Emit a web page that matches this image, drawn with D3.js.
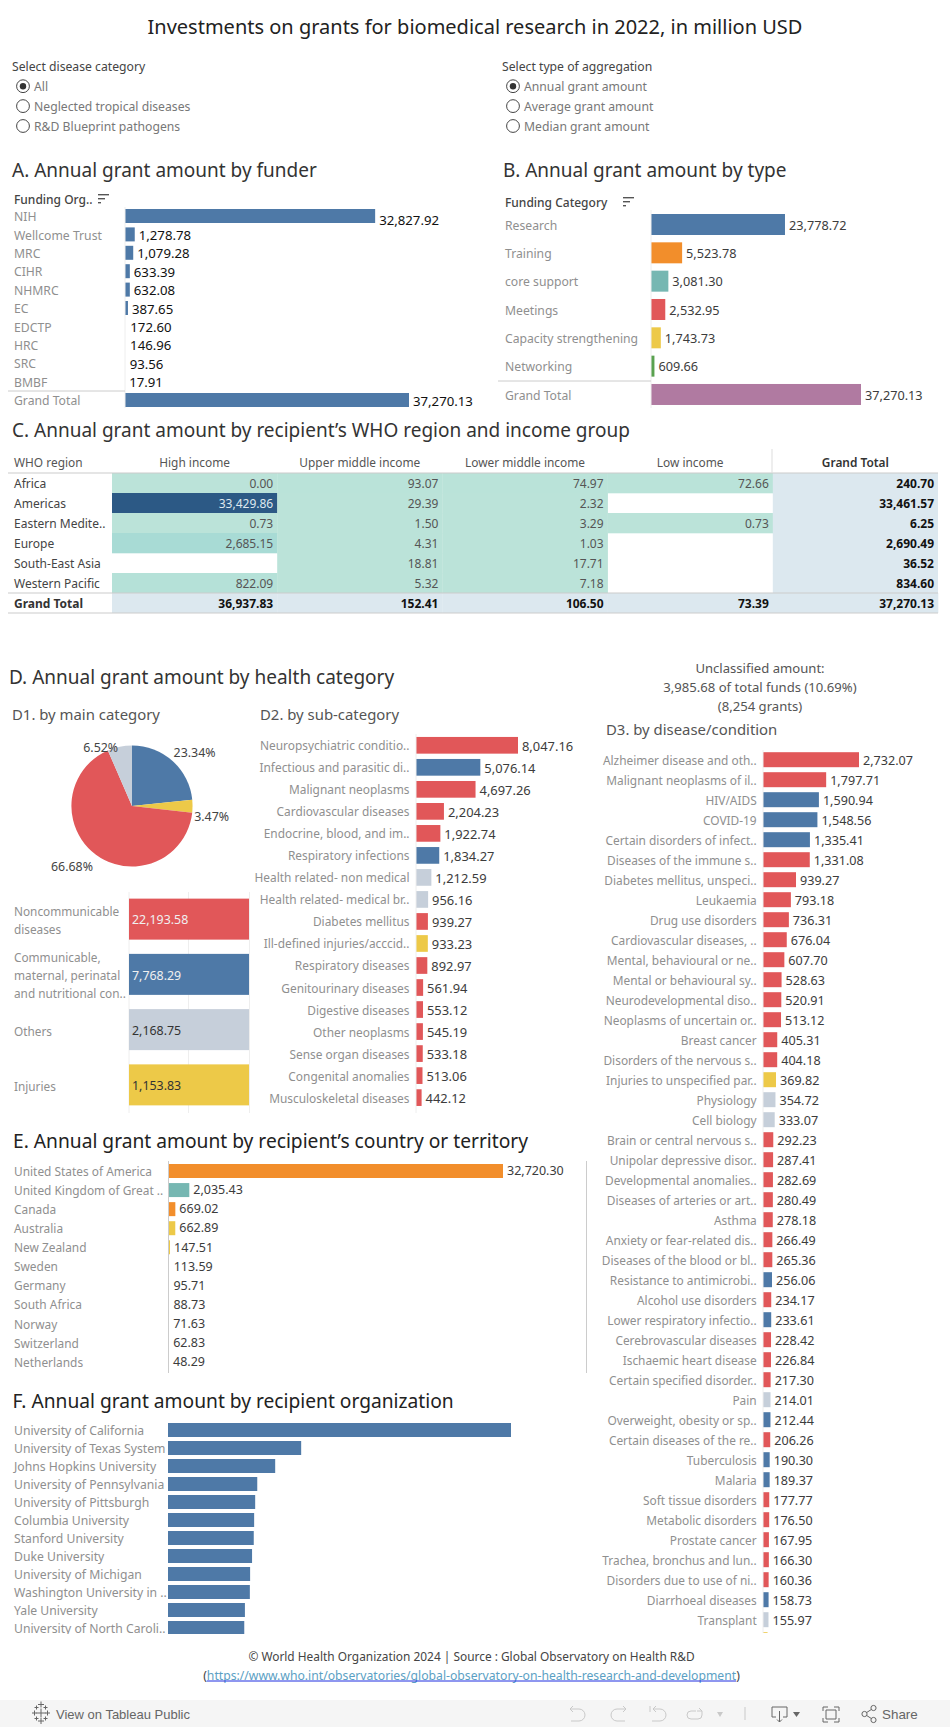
<!DOCTYPE html>
<html><head><meta charset="utf-8">
<script src="https://cdn.jsdelivr.net/npm/d3@7/dist/d3.min.js"></script>
<style>
html,body{margin:0;padding:0;background:#fff;overflow:hidden}
svg{display:block}
text{font-family:"Noto Sans",sans-serif}
</style></head><body><div id="chart"></div>
<script>
// ---------- data ----------
const mainTitle = "Investments on grants for biomedical research in 2022, in million USD";
const diseaseOptions = ["All","Neglected tropical diseases","R&D Blueprint pathogens"];
const aggregationOptions = ["Annual grant amount","Average grant amount","Median grant amount"];

const funders = ["NIH","Wellcome Trust","MRC","CIHR","NHMRC","EC","EDCTP","HRC","SRC","BMBF","Grand Total"];
const funderValues = [32827.92,1278.78,1079.28,633.39,632.08,387.65,172.60,146.96,93.56,17.91,37270.13];

const fundTypes = ["Research","Training","core support","Meetings","Capacity strengthening","Networking","Grand Total"];
const fundTypeValues = [23778.72,5523.78,3081.30,2532.95,1743.73,609.66,37270.13];
const fundTypeGroups = ["blue","orange","teal","red","yellow","green","purple"];

const regions = ["Africa","Americas","Eastern Medite..","Europe","South-East Asia","Western Pacific"];
const incomeGroups = ["High income","Upper middle income","Lower middle income","Low income"];
const highIncome = [0.00,33429.86,0.73,2685.15,null,822.09];
const upperMiddleIncome = [93.07,29.39,1.50,4.31,18.81,5.32];
const lowerMiddleIncome = [74.97,2.32,3.29,1.03,17.71,7.18];
const lowIncome = [72.66,null,0.73,null,null,null];
const regionTotals = [240.70,33461.57,6.25,2690.49,36.52,834.60];
const incomeTotals = [36937.83,152.41,106.50,73.39,37270.13];

const mainCategories = ["Communicable","Injuries","Noncommunicable","Others"];
const mainShares = [23.34,3.47,66.68,6.52];
const mainShareGroups = ["blue","yellow","red","gray"];

const mainBarNames = [["Noncommunicable","diseases"],["Communicable,","maternal, perinatal","and nutritional con.."],["Others"],["Injuries"]];
const mainBarValues = [22193.58,7768.29,2168.75,1153.83];
const mainBarGroups = ["red","blue","gray","yellow"];

const subCategories = ["Neuropsychiatric conditio..","Infectious and parasitic di..","Malignant neoplasms","Cardiovascular diseases","Endocrine, blood, and im..","Respiratory infections","Health related- non medical","Health related- medical br..","Diabetes mellitus","Ill-defined injuries/acccid..","Respiratory diseases","Genitourinary diseases","Digestive diseases","Other neoplasms","Sense organ diseases","Congenital anomalies","Musculoskeletal diseases"];
const subValues = [8047.16,5076.14,4697.26,2204.23,1922.74,1834.27,1212.59,956.16,939.27,933.23,892.97,561.94,553.12,545.19,533.18,513.06,442.12];
const subGroups = ["red","blue","red","red","red","blue","gray","gray","red","yellow","red","red","red","red","red","red","red"];

const diseases = ["Alzheimer disease and oth..","Malignant neoplasms of il..","HIV/AIDS","COVID-19","Certain disorders of infect..","Diseases of the immune s..","Diabetes mellitus, unspeci..","Leukaemia","Drug use disorders","Cardiovascular diseases, ..","Mental, behavioural or ne..","Mental or behavioural sy..","Neurodevelopmental diso..","Neoplasms of uncertain or..","Breast cancer","Disorders of the nervous s..","Injuries to unspecified par..","Physiology","Cell biology","Brain or central nervous s..","Unipolar depressive disor..","Developmental anomalies..","Diseases of arteries or art..","Asthma","Anxiety or fear-related dis..","Diseases of the blood or bl..","Resistance to antimicrobi..","Alcohol use disorders","Lower respiratory infectio..","Cerebrovascular diseases","Ischaemic heart disease","Certain specified disorder..","Pain","Overweight, obesity or sp..","Certain diseases of the re..","Tuberculosis","Malaria","Soft tissue disorders","Metabolic disorders","Prostate cancer","Trachea, bronchus and lun..","Disorders due to use of ni..","Diarrhoeal diseases","Transplant",""];
const diseaseValues = [2732.07,1797.71,1590.94,1548.56,1335.41,1331.08,939.27,793.18,736.31,676.04,607.70,528.63,520.91,513.12,405.31,404.18,369.82,354.72,333.07,292.23,287.41,282.69,280.49,278.18,266.49,265.36,256.06,234.17,233.61,228.42,226.84,217.30,214.01,212.44,206.26,190.30,189.37,177.77,176.50,167.95,166.30,160.36,158.73,155.97,130];
const diseaseGroups = ["red","red","blue","blue","blue","red","red","red","red","red","red","red","red","red","red","red","yellow","gray","gray","red","red","red","red","red","red","red","blue","red","blue","red","red","red","gray","blue","red","blue","blue","red","red","red","red","red","blue","gray","yellow"];

const countries = ["United States of America","United Kingdom of Great ..","Canada","Australia","New Zealand","Sweden","Germany","South Africa","Norway","Switzerland","Netherlands"];
const countryValues = [32720.30,2035.43,669.02,662.89,147.51,113.59,95.71,88.73,71.63,62.83,48.29];
const countryGroups = ["orange","teal","orange","yellow","yellow","teal","teal","blue","teal","teal","teal"];

const organizations = ["University of California","University of Texas System","Johns Hopkins University","University of Pennsylvania","University of Pittsburgh","Columbia University","Stanford University","Duke University","University of Michigan","Washington University in ..","Yale University","University of North Caroli.."];
const organizationValues = [2640,1025,825,687,671,663,660,647,632,630,592,587];

const palette = {blue:"#4e79a7",orange:"#f28e2b",teal:"#76b7b2",red:"#e15759",yellow:"#edc948",green:"#59a14f",purple:"#b07aa1",gray:"#c6cfda"};
const fmt = d3.format(",.2f");

// ---------- helpers ----------
const svg = d3.select("#chart").append("svg").attr("width",950).attr("height",1727);
const defs = svg.append("defs");
function label(g,x,y,str,size,color,opts={}){
  return g.append("text").attr("x",x).attr("y",y).attr("dy",size<14?"0.42em":"0.35em")
    .attr("font-size",size).attr("fill",color)
    .attr("text-anchor",opts.anchor||"start")
    .attr("font-weight",opts.weight||400)
    .text(str);
}
const TITLE=19, TITLE2=19.2, SUB=14.9, CAT="#8f8f8f", VAL="#3c3c3c";
function hbars(o){
  const g = svg.append("g");
  if(o.clipId){
    defs.append("clipPath").attr("id",o.clipId).append("rect").attr("x",0).attr("y",0).attr("width",950).attr("height",o.clipBottom);
    g.attr("clip-path",`url(#${o.clipId})`);
  }
  const x = d3.scaleLinear().domain([0,o.max]).range([o.x0,o.x1]);
  const y = d3.scaleBand().domain(o.names).range([o.firstY-o.step/2,o.firstY-o.step/2+o.step*o.names.length]);
  if(o.axisColor) svg.append("line").attr("x1",o.x0).attr("x2",o.x0).attr("y1",o.axisTop).attr("y2",o.axisBottom).attr("stroke",o.axisColor);
  o.names.forEach((n,i)=>{
    const cy = y(n)+y.bandwidth()/2, v=o.values[i], w=x(v)-o.x0;
    const color = o.colorOf(i);
    if(w>=1.4) g.append("rect").attr("x",o.x0).attr("y",cy-o.barH/2).attr("width",w).attr("height",o.barH).attr("fill",color);
    label(g,o.labelX,cy,n,o.labelSize,CAT,{anchor:o.labelAnchor});
    const shift = (o.valueDy||0)+(i===0?(o.firstValueDy||0):0);
    if(o.showValues && n) label(g,x(v)+4,cy+shift,fmt(v),o.valueSize,o.valueColor||VAL);
  });
  return y;
}
function sortIcon(x,y){
  [11,7,3].forEach((w,i)=>svg.append("rect").attr("x",x).attr("y",y+i*4).attr("width",w).attr("height",1.4).attr("fill","#555"));
}

// ---------- title and filters ----------
label(svg,475,27,mainTitle,20,"#222",{anchor:"middle"});
function radioGroup(x,titleText,opts){
  label(svg,x,66,titleText,12.2,"#444");
  opts.forEach((t,i)=>{
    const cy=86.2+i*19.9;
    svg.append("circle").attr("cx",x+11).attr("cy",cy).attr("r",6.4).attr("fill","#fff").attr("stroke","#444").attr("stroke-width",1);
    if(i===0) svg.append("circle").attr("cx",x+11).attr("cy",cy).attr("r",3.2).attr("fill","#333");
    label(svg,x+22,cy-.5,t,12.2,"#777");
  });
}
radioGroup(12,"Select disease category",diseaseOptions);
radioGroup(502,"Select type of aggregation",aggregationOptions);

// ---------- A ----------
label(svg,12,170,"A. Annual grant amount by funder",TITLE,"#333");
label(svg,14,199,"Funding Org..",12,"#444",{weight:500});
sortIcon(98,194);
hbars({names:funders,values:funderValues,max:37270.13,x0:125,x1:409,firstY:216,step:18.4,barH:14,
  colorOf:()=>palette.blue,labelX:14,labelSize:12.2,showValues:true,valueSize:13.2,valueColor:"#111",firstValueDy:3,axisColor:"#eee",axisTop:207,axisBottom:408});
svg.append("line").attr("x1",8).attr("x2",125).attr("y1",391).attr("y2",391).attr("stroke","#ccc");

// ---------- B ----------
label(svg,503,170,"B. Annual grant amount by type",TITLE,"#333");
label(svg,505,202,"Funding Category",12,"#444",{weight:500});
sortIcon(623,197);
hbars({names:fundTypes,values:fundTypeValues,max:37270.13,x0:651,x1:861,firstY:224.5,step:28.33,barH:21,
  colorOf:i=>palette[fundTypeGroups[i]],labelX:505,labelSize:12.2,showValues:true,valueSize:12.7,axisColor:"#eee",axisTop:210,axisBottom:408});
svg.append("line").attr("x1",498).attr("x2",651).attr("y1",381).attr("y2",381).attr("stroke","#ccc");

// ---------- C ----------
label(svg,12,430,"C. Annual grant amount by recipient\u2019s WHO region and income group",TITLE,"#333");
const columns = [highIncome,upperMiddleIncome,lowerMiddleIncome,lowIncome];
const colX = d3.scaleBand().domain([...incomeGroups,"Grand Total"]).range([112,938]);
const rowY = d3.scaleBand().domain([...regions,"Grand Total"]).range([473,613]);
const heat = d3.scaleLinear().domain([0,2685.15,33429.86]).range(["#bbe3d9","#a8dbd5","#2c5985"]);
const tg = svg.append("g");
label(tg,14,462,"WHO region",11.9,"#555");
incomeGroups.forEach((c,ci)=>{
  label(tg,colX(c)+colX.bandwidth()/2,462,c,11.9,"#555",{anchor:"middle"});
  regions.forEach((r,ri)=>{
    const v=columns[ci][ri];
    if(v===null) return;
    tg.append("rect").attr("x",colX(c)).attr("y",rowY(r)).attr("width",colX.bandwidth()+.3).attr("height",rowY.bandwidth()+.3).attr("fill",heat(v));
    label(tg,colX(c)+colX.bandwidth()-4,rowY(r)+10,fmt(v),12,v>10000?"#dfe8ef":"#555",{anchor:"end"});
  });
});
label(tg,colX("Grand Total")+colX.bandwidth()/2,462,"Grand Total",11.9,"#333",{anchor:"middle",weight:600});
regions.forEach((r,ri)=>{
  label(tg,14,rowY(r)+10,r,12,"#444");
  tg.append("rect").attr("x",colX("Grand Total")).attr("y",rowY(r)).attr("width",colX.bandwidth()).attr("height",rowY.bandwidth()+.3).attr("fill","#dce8ef");
  label(tg,colX("Grand Total")+colX.bandwidth()-4,rowY(r)+10,fmt(regionTotals[ri]),12,"#111",{anchor:"end",weight:700});
});
label(tg,14,rowY("Grand Total")+10,"Grand Total",12,"#333",{weight:700});
colX.domain().forEach((c,ci)=>{
  tg.append("rect").attr("x",colX(c)).attr("y",rowY("Grand Total")).attr("width",colX.bandwidth()+.3).attr("height",rowY.bandwidth()).attr("fill","#dce8ef");
  label(tg,colX(c)+colX.bandwidth()-4,rowY("Grand Total")+10,fmt(incomeTotals[ci]),12,"#111",{anchor:"end",weight:700});
});
[473,593,613].forEach(y=>tg.append("line").attr("x1",8).attr("x2",938).attr("y1",y).attr("y2",y).attr("stroke","#ccc").attr("stroke-width",1.2));
tg.append("line").attr("x1",772).attr("x2",772).attr("y1",449).attr("y2",473).attr("stroke","#ddd");

// ---------- D ----------
label(svg,9,677,"D. Annual grant amount by health category",TITLE,"#333");
["Unclassified amount:","3,985.68 of total funds (10.69%)","(8,254 grants)"].forEach((t,i)=>label(svg,760,667+i*19,t,13.1,"#555",{anchor:"middle"}));
label(svg,12,715,"D1. by main category",SUB,"#555");
label(svg,260,715,"D2. by sub-category",SUB,"#555");
label(svg,606,730,"D3. by disease/condition",SUB,"#555");

// pie
const pieG = svg.append("g").attr("transform","translate(132,806)");
const pieR = 60.6;
const pieData = d3.pie().sort(null)(mainShares);
const arc = d3.arc().innerRadius(0).outerRadius(pieR);
const rim = d3.arc().innerRadius(pieR).outerRadius(pieR);
const pieLabelShift = [[22,-9],[19,10],[-24,11],[-19,0]];
pieData.forEach((d,i)=>{
  pieG.append("path").attr("d",arc(d)).attr("fill",palette[mainShareGroups[i]]);
});
pieData.forEach((d,i)=>{
  const c=rim.centroid(d);
  label(pieG,c[0]+pieLabelShift[i][0],c[1]+pieLabelShift[i][1],d.value.toFixed(2)+"%",12.4,"#444",{anchor:"middle"});
});

// D1 bars
const mainBand = d3.scaleBand().domain(mainBarValues).range([892,1113]);
[129,188.5,249.5].forEach(x=>svg.append("line").attr("x1",x).attr("x2",x).attr("y1",892).attr("y2",1113).attr("stroke","#eee"));
mainBarValues.forEach((v,i)=>{
  const cy=mainBand(v)+mainBand.bandwidth()/2-.5;
  const g=mainBarGroups[i];
  svg.append("rect").attr("x",129).attr("y",cy-20.5).attr("width",120).attr("height",41).attr("fill",palette[g]);
  label(svg,132,cy,fmt(v),12.4,(g==="red"||g==="blue")?"#f0f0f0":"#333");
  const lines=mainBarNames[i];
  lines.forEach((t,j)=>label(svg,14,cy+1+(j-(lines.length-1)/2)*18,t,11.8,CAT));
});

// D2
hbars({names:subCategories,values:subValues,max:8047.16,x0:416,x1:518,firstY:745.3,step:22.02,barH:16.7,
  colorOf:i=>palette[subGroups[i]],labelX:409.5,labelAnchor:"end",labelSize:11.9,showValues:true,valueSize:12.9,axisColor:"#eee",axisTop:734,axisBottom:1113});

// D3
hbars({names:diseases,values:diseaseValues,max:2732.07,x0:763,x1:859,firstY:759.7,step:20,barH:15,
  colorOf:i=>palette[diseaseGroups[i]],labelX:756.7,labelAnchor:"end",labelSize:11.9,showValues:true,valueSize:12.6,
  clipId:"clipD3",clipBottom:1633,axisColor:"#eee",axisTop:750,axisBottom:1633});

// ---------- E ----------
label(svg,13,1141,"E. Annual grant amount by recipient\u2019s country or territory",TITLE2,"#222");
hbars({names:countries,values:countryValues,max:32720.30,x0:168.5,x1:503,firstY:1171,step:19.07,barH:14,
  colorOf:i=>palette[countryGroups[i]],labelX:14,labelSize:11.9,showValues:true,valueSize:12.5,valueDy:-1,axisColor:"#ccc",axisTop:1161,axisBottom:1373});
svg.append("line").attr("x1",586.5).attr("x2",586.5).attr("y1",1161).attr("y2",1373).attr("stroke","#ccc");

// ---------- F ----------
label(svg,12.5,1401,"F. Annual grant amount by recipient organization",TITLE2,"#222");
hbars({names:organizations,values:organizationValues,max:2640,x0:168,x1:511,firstY:1430,step:18,barH:14,
  colorOf:()=>palette.blue,labelX:14,labelSize:12.2,showValues:false,clipId:"clipF",clipBottom:1634});

// ---------- footer ----------
label(svg,471.5,1656.5,"\u00a9 World Health Organization 2024 | Source : Global Observatory on Health R&D",11.9,"#444",{anchor:"middle"});
const foot = label(svg,471.5,1674.5,"",12.2,"#444",{anchor:"middle"});
foot.append("tspan").text("(");
const link = foot.append("tspan").attr("fill","#5b9fc4").text("https://www.who.int/observatories/global-observatory-on-health-research-and-development");
foot.append("tspan").text(")");
const nd = foot.node(), linkLen = link.text().length;
const sx = nd.getStartPositionOfChar(1).x, ex = nd.getEndPositionOfChar(linkLen).x;
svg.append("line").attr("x1",sx).attr("x2",ex).attr("y1",1681).attr("y2",1681).attr("stroke","#1f2fe0").attr("stroke-width",1);

// ---------- toolbar ----------
const bar = svg.append("g");
bar.append("rect").attr("x",0).attr("y",1700).attr("width",950).attr("height",27).attr("fill","#f5f5f5");
const ICON="#666", OFF="#c9c9c9";
function stroke(d,c){bar.append("path").attr("d",d).attr("fill","none").attr("stroke",c).attr("stroke-width",1);}
// tableau mark
[[41,1704.5,3],[41,1713,4.5],[41,1721,3],[34.5,1713,2.5],[47.5,1713,2.5],[36.5,1707.5,2],[45.5,1707.5,2],[36.5,1718.5,2],[45.5,1718.5,2]].forEach(m=>
  stroke(`M${m[0]-m[2]},${m[1]}H${m[0]+m[2]}M${m[0]},${m[1]-m[2]}V${m[1]+m[2]}`,ICON));
bar.append("text").attr("x",56).attr("y",1714).attr("dy","0.35em").attr("font-size",13).attr("fill","#666").attr("font-weight",500).style("font-family","'Liberation Sans',sans-serif").text("View on Tableau Public");
stroke("M570,1709H579A6,6 0 0 1 579,1721H571M573,1706L570,1709L573,1712",OFF);
stroke("M626,1709H617A6,6 0 0 0 617,1721H625M623,1706L626,1709L623,1712",OFF);
stroke("M650,1706V1712M653,1709H660A6,6 0 0 1 660,1721H652M656,1706L653,1709L656,1712",OFF);
stroke("M696,1711H691A4,4 0 0 0 691,1719H698A4,4 0 0 0 702,1715V1711H697M699,1708L702,1711",OFF);
bar.append("path").attr("d","M717,1712H723L720,1717Z").attr("fill",OFF);
bar.append("line").attr("x1",745).attr("x2",745).attr("y1",1707).attr("y2",1720).attr("stroke",OFF);
stroke("M776,1717H772V1707H787V1717H783M779.5,1711V1722M777,1719.5L779.5,1722L782,1719.5",ICON);
bar.append("path").attr("d","M793,1712H800L796.5,1717Z").attr("fill",ICON);
stroke("M823,1711V1707H828M834,1707H839V1711M839,1718V1722H834M828,1722H823V1718M826,1710H836V1719H826Z",ICON);
[[864.5,1714],[873.5,1708],[873.5,1720]].forEach(p=>bar.append("circle").attr("cx",p[0]).attr("cy",p[1]).attr("r",2.6).attr("fill","none").attr("stroke",ICON));
stroke("M866.7,1712.5L871.3,1709.5M866.7,1715.5L871.3,1718.5",ICON);
bar.append("text").attr("x",882).attr("y",1714).attr("dy","0.35em").attr("font-size",13.4).attr("fill","#666").attr("font-weight",500).style("font-family","'Liberation Sans',sans-serif").text("Share");
</script></body></html>
